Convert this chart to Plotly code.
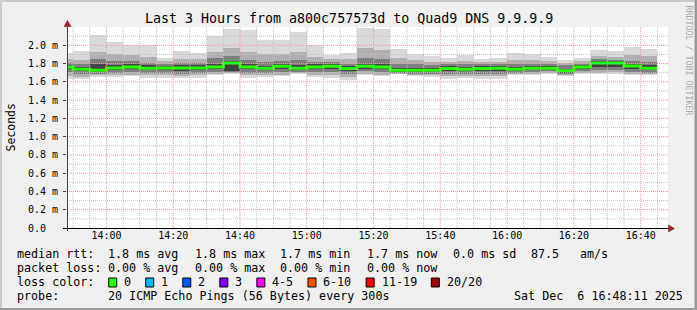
import plotly.graph_objects as go
import pandas as pd

# ---------------- data (milliseconds) ----------------
step_end = pd.date_range("2025-12-06 13:50", periods=36, freq="5min")

rtt_max = [1.92, 1.934, 2.113, 2.033, 2.00, 2.00, 1.865, 1.934, 1.92, 2.098, 2.18, 2.164,
           2.062, 2.062, 2.142, 2.007, 1.898, 1.92, 2.19, 2.18, 1.956, 1.909, 1.88, 1.865,
           1.89, 1.854, 1.86, 1.916, 1.902, 1.872, 1.844, 1.865, 1.945, 1.935, 1.98, 1.956]
rtt_hi2 = [1.85, 1.84, 1.93, 1.90, 1.89, 1.87, 1.83, 1.85, 1.85, 1.93, 1.97, 1.93,
           1.90, 1.91, 1.93, 1.87, 1.85, 1.85, 1.97, 1.95, 1.86, 1.84, 1.82, 1.82,
           1.83, 1.82, 1.82, 1.84, 1.84, 1.83, 1.81, 1.83, 1.88, 1.87, 1.89, 1.88]
rtt_hi3 = [1.81, 1.79, 1.85, 1.83, 1.83, 1.81, 1.80, 1.81, 1.81, 1.86, 1.88, 1.84,
           1.82, 1.83, 1.84, 1.82, 1.82, 1.80, 1.86, 1.85, 1.80, 1.79, 1.78, 1.79,
           1.79, 1.79, 1.795, 1.80, 1.80, 1.80, 1.78, 1.80, 1.845, 1.84, 1.83, 1.82]
rtt_hi4 = [1.785, 1.765, 1.79, 1.78, 1.79, 1.78, 1.775, 1.78, 1.78, 1.80, 1.83, 1.79,
           1.775, 1.80, 1.78, 1.79, 1.795, 1.77, 1.80, 1.79, 1.755, 1.755, 1.75, 1.77,
           1.765, 1.77, 1.775, 1.765, 1.775, 1.775, 1.745, 1.785, 1.825, 1.825, 1.80, 1.78]
rtt_median = [1.763, 1.738, 1.727, 1.752, 1.763, 1.749, 1.752, 1.752, 1.752, 1.763, 1.807, 1.763,
              1.749, 1.77, 1.749, 1.763, 1.77, 1.745, 1.77, 1.763, 1.727, 1.727, 1.727, 1.745,
              1.738, 1.745, 1.749, 1.738, 1.749, 1.749, 1.72, 1.763, 1.807, 1.807, 1.774, 1.749]
rtt_lo4 = [1.74, 1.715, 1.705, 1.73, 1.74, 1.725, 1.725, 1.72, 1.725, 1.74, 1.715, 1.735,
           1.725, 1.74, 1.725, 1.735, 1.74, 1.72, 1.745, 1.74, 1.71, 1.71, 1.71, 1.72,
           1.715, 1.72, 1.72, 1.72, 1.73, 1.73, 1.70, 1.735, 1.76, 1.76, 1.74, 1.73]
rtt_lo3 = [1.71, 1.69, 1.69, 1.70, 1.71, 1.70, 1.70, 1.69, 1.70, 1.71, 1.71, 1.70,
           1.70, 1.71, 1.71, 1.705, 1.705, 1.685, 1.72, 1.71, 1.70, 1.69, 1.69, 1.69,
           1.69, 1.69, 1.69, 1.70, 1.71, 1.715, 1.685, 1.715, 1.73, 1.73, 1.71, 1.70]
rtt_lo2 = [1.66, 1.65, 1.67, 1.675, 1.68, 1.67, 1.67, 1.665, 1.67, 1.69, 1.695, 1.67,
           1.675, 1.68, 1.695, 1.675, 1.67, 1.65, 1.69, 1.68, 1.69, 1.675, 1.67, 1.66,
           1.665, 1.66, 1.66, 1.685, 1.69, 1.70, 1.67, 1.70, 1.70, 1.71, 1.69, 1.685]
rtt_min = [1.632, 1.632, 1.658, 1.658, 1.66, 1.647, 1.647, 1.647, 1.647, 1.672, 1.683, 1.647,
           1.658, 1.66, 1.683, 1.658, 1.647, 1.625, 1.672, 1.66, 1.683, 1.661, 1.654, 1.636,
           1.643, 1.636, 1.636, 1.672, 1.672, 1.69, 1.661, 1.69, 1.683, 1.69, 1.672, 1.672]

y_tick_vals = [0.0, 0.2, 0.4, 0.6, 0.8, 1.0, 1.2, 1.4, 1.6, 1.8, 2.0]
y_tick_text = ["0.0\u00a0\u00a0", "0.2\u00a0m", "0.4\u00a0m", "0.6\u00a0m", "0.8\u00a0m", "1.0\u00a0m",
               "1.2\u00a0m", "1.4\u00a0m", "1.6\u00a0m", "1.8\u00a0m", "2.0\u00a0m"]

title_text = "Last 3 Hours from a800c757573d to Quad9 DNS 9.9.9.9"
rtt_stats = ["1.8 ms avg", "1.8 ms max", "1.7 ms min", "1.7 ms now", "0.0 ms sd", "87.5", "am/s"]
loss_stats = ["0.00 % avg", "0.00 % max", "0.00 % min", "0.00 % now"]
loss_labels = ["0", "1", "2", "3", "4-5", "6-10", "11-19", "20/20"]
loss_colors = ["#26ff00", "#00b8ff", "#0059ff", "#7e00ff", "#ff00ff", "#ff5500", "#ff0000", "#a10000"]
probe_text = "20 ICMP Echo Pings (56 Bytes) every 300s"
date_text = "Sat Dec\u00a0\u00a06 16:48:11 2025"

# ---------------- geometry helpers ----------------
W, H = 697, 310
PL, PT, PW, PH = 67, 27, 601, 201
MONO = "DejaVu Sans Mono"


def px(x):
    return (x - PL) / PW


def py(y):
    return (PT + PH - y) / PH


fig = go.Figure()

half = pd.Timedelta(minutes=2.5)
centers = step_end - half
bands = [
    (rtt_min, rtt_max, "#d9d9d9"),
    (rtt_lo2, rtt_hi2, "#b0b0b0"),
    (rtt_lo3, rtt_hi3, "#7e7e7e"),
    (rtt_lo4, rtt_hi4, "#424242"),
]
for lo, hi, col in bands:
    fig.add_trace(go.Bar(
        x=centers, y=[h - l for l, h in zip(lo, hi)], base=lo,
        width=300000, marker=dict(color=col, line=dict(width=0)),
        showlegend=False, hoverinfo="skip"))

line_x = list(step_end - pd.Timedelta(minutes=5)) + [step_end[-1]]
line_y = rtt_median + [rtt_median[-1]]
fig.add_trace(go.Scatter(x=line_x, y=line_y, mode="lines", line=dict(color="#26ff00", width=3, shape="hv"),
                         showlegend=False, hoverinfo="skip"))

shapes = []
# grid (drawn above the smoke, like rrdtool)
gt = pd.date_range("2025-12-06 13:50", "2025-12-06 16:45", freq="5min")
for t in gt:
    major = (t.minute % 20 == 0)
    shapes.append(dict(type="line", xref="x", yref="paper", x0=t, x1=t, y0=0, y1=1, layer="above",
                       line=dict(color="#f09a9a" if major else "#c4c4c4", width=1, dash="1px,1px")))
for k in range(1, 22):
    v = k / 10
    major = (k % 2 == 0)
    shapes.append(dict(type="line", xref="paper", yref="y", x0=0, x1=1, y0=v, y1=v, layer="above",
                       line=dict(color="#f09a9a" if major else "#c4c4c4", width=1, dash="1px,1px")))

# axes
shapes.append(dict(type="line", xref="paper", yref="paper", x0=px(63), x1=px(669), y0=py(228.5), y1=py(228.5),
                   line=dict(color="#000000", width=1), layer="above"))
shapes.append(dict(type="line", xref="paper", yref="paper", x0=px(67.5), x1=px(67.5), y0=py(231), y1=py(24),
                   line=dict(color="#444444", width=1), layer="above"))
# arrows
shapes.append(dict(type="path", xref="paper", yref="paper",
                   path=f"M {px(64)} {py(26.5)} L {px(67.5)} {py(20.5)} L {px(71)} {py(26.5)} Z",
                   fillcolor="#a32424", line=dict(color="#7a1a1a", width=0.5), layer="above"))
shapes.append(dict(type="path", xref="paper", yref="paper",
                   path=f"M {px(668.5)} {py(225)} L {px(674.5)} {py(228.5)} L {px(668.5)} {py(232)} Z",
                   fillcolor="#a32424", line=dict(color="#7a1a1a", width=0.5), layer="above"))
# frame
shapes.append(dict(type="rect", xref="paper", yref="paper", x0=px(0), x1=px(W), y0=py(0), y1=py(2),
                   fillcolor="#cbcbcb", line=dict(width=0), layer="above"))
shapes.append(dict(type="rect", xref="paper", yref="paper", x0=px(0), x1=px(2), y0=py(0), y1=py(H),
                   fillcolor="#cbcbcb", line=dict(width=0), layer="above"))
shapes.append(dict(type="rect", xref="paper", yref="paper", x0=px(0), x1=px(W), y0=py(H - 2), y1=py(H),
                   fillcolor="#999999", line=dict(width=0), layer="above"))
shapes.append(dict(type="rect", xref="paper", yref="paper", x0=px(W - 2.5), x1=px(W), y0=py(0), y1=py(H),
                   fillcolor="#999999", line=dict(width=0), layer="above"))

ann = []


def text(x, y, s, size=11.7, color="#000000", xanchor="left", angle=0):
    ann.append(dict(xref="paper", yref="paper", x=px(x), y=py(y), text=s, showarrow=False,
                    xanchor=xanchor, yanchor="middle", textangle=angle,
                    font=dict(family=MONO, size=size, color=color)))


text(348.5, 19, title_text, size=13.3, xanchor="center")
text(688.5, 60, "RRDTOOL / TOBI OETIKER", size=8.3, color="#aaaaaa", xanchor="center", angle=90)
text(10, 127.5, "Seconds", size=11.5, xanchor="center", angle=-90)

stat_x = [107.3, 194, 279.3, 366, 451.7, 530, 579.3]
row_y = [254, 268, 282, 296]
text(15, row_y[0], "median rtt:")
for s, x in zip(rtt_stats, stat_x):
    text(x - 1, row_y[0], s)
text(15, row_y[1], "packet loss:")
for s, x in zip(loss_stats, stat_x):
    text(x - 1, row_y[1], s)
text(15, row_y[2], "loss color:")
bx = 108.7
for lab, col in zip(loss_labels, loss_colors):
    shapes.append(dict(type="rect", xref="paper", yref="paper", x0=px(bx), x1=px(bx + 8),
                       y0=py(278), y1=py(287), fillcolor=col, line=dict(color="#000000", width=1)))
    text(bx + 14.5 - 1, row_y[2], lab)
    bx += 30 + 7.04 * len(lab)
text(15, row_y[3], "probe:")
text(107.3 - 1, row_y[3], probe_text)
text(513 - 1, row_y[3], date_text)

fig.update_layout(
    width=W, height=H,
    margin=dict(l=PL, r=W - PL - PW, t=PT, b=H - PT - PH, pad=0),
    paper_bgcolor="#f0f0f0", plot_bgcolor="#ffffff",
    barmode="overlay", bargap=0, showlegend=False,
    shapes=shapes, annotations=ann,
    font=dict(family=MONO, size=10, color="#000000"),
    xaxis=dict(type="date", range=["2025-12-06 13:48:11", "2025-12-06 16:48:11"],
               tick0="2025-12-06 14:00:00", dtick=1200000, tickformat="%H:%M",
               showgrid=False, zeroline=False, showline=False, ticks="",
               tickfont=dict(family=MONO, size=10, color="#000000")),
    yaxis=dict(range=[0, 2.2], tickvals=y_tick_vals, ticktext=y_tick_text,
               showgrid=False, zeroline=False, showline=False, ticks="outside", ticklen=3,
               tickcolor="#444444", ticklabelstandoff=3,
               tickfont=dict(family=MONO, size=10, color="#000000")),
)

fig.write_html("out.html")
